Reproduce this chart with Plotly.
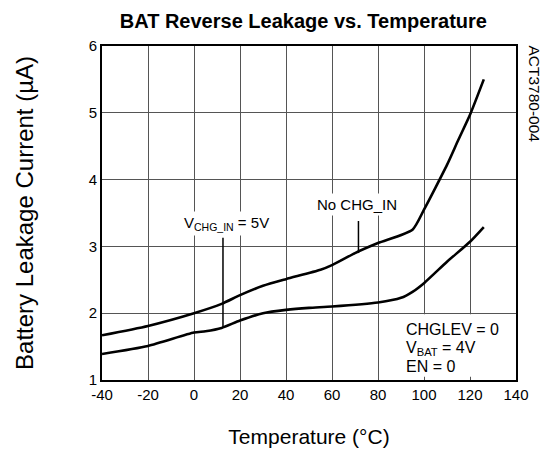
import plotly.graph_objects as go

# Data
temp_no_chg = [-40, -20, 0, 12, 20, 30, 40, 55, 60, 70, 80, 95, 100, 105, 110, 115, 120, 126]
leak_no_chg = [1.67, 1.81, 2.0, 2.14, 2.27, 2.41, 2.51, 2.65, 2.72, 2.90, 3.05, 3.25, 3.55, 3.88, 4.22, 4.6, 4.97, 5.5]

temp_chg5 = [-40, -20, 0, 5, 12, 20, 30, 40, 50, 60, 80, 90, 95, 100, 110, 120, 126]
leak_chg5 = [1.39, 1.51, 1.71, 1.73, 1.78, 1.89, 2.0, 2.05, 2.08, 2.10, 2.16, 2.23, 2.32, 2.45, 2.77, 3.07, 3.29]

x_ticks = [-40, -20, 0, 20, 40, 60, 80, 100, 120, 140]
y_ticks = [1, 2, 3, 4, 5, 6]

FONT = "Liberation Sans, Arial, sans-serif"

fig = go.Figure()
for xs, ys in [(temp_no_chg, leak_no_chg), (temp_chg5, leak_chg5)]:
    fig.add_trace(go.Scatter(x=xs, y=ys, mode="lines",
                             line=dict(color="black", width=2.6, shape="spline", smoothing=0.6),
                             showlegend=False, hoverinfo="skip"))

# white box behind the conditions text (hides grid)
fig.add_shape(type="rect", xref="x", yref="y", x0=87, x1=139.3, y0=1.05, y1=1.985,
              fillcolor="white", line=dict(width=0), layer="above")

# leader lines
fig.add_shape(type="line", xref="x", yref="y", x0=12.6, x1=12.6, y0=1.78, y1=3.13,
              line=dict(color="black", width=1.5))
fig.add_shape(type="line", xref="x", yref="y", x0=71.5, x1=71.5, y0=2.9, y1=3.38,
              line=dict(color="black", width=1.5))

fig.add_annotation(x=14.3, y=3.34, xref="x", yref="y", showarrow=False,
                   text="V<sub>CHG_IN</sub> = 5V", font=dict(size=15, color="black", family=FONT),
                   bgcolor="white", borderpad=2)
fig.add_annotation(x=70.7, y=3.62, xref="x", yref="y", showarrow=False,
                   text="No CHG_IN", font=dict(size=15, color="black", family=FONT),
                   bgcolor="white", borderpad=2)

for txt, yv in [("CHGLEV = 0", 1.75), ("V<sub>BAT</sub> = 4V", 1.47), ("EN = 0", 1.20)]:
    fig.add_annotation(x=91.5, y=yv, xref="x", yref="y", showarrow=False, xanchor="left",
                       text=txt, font=dict(size=16, color="black", family=FONT))

fig.add_annotation(x=1.045, y=0.856, xref="x domain", yref="y domain", showarrow=False,
                   text="ACT3780-004", textangle=90, xanchor="center", yanchor="middle",
                   font=dict(size=15.5, color="black", family=FONT))

fig.update_layout(
    width=550, height=450,
    margin=dict(l=94, r=42, t=38, b=78),
    paper_bgcolor="white", plot_bgcolor="white",
    font=dict(family=FONT, color="black"),
    title=dict(text="<b>BAT Reverse Leakage vs. Temperature</b>", x=0.537, xanchor="center",
               y=0.972, yanchor="middle", font=dict(size=20, color="black", family=FONT)),
    xaxis=dict(range=[-40, 140], tickvals=x_ticks, ticktext=[str(v) for v in x_ticks],
               showgrid=True, gridcolor="#555555", gridwidth=1,
               showline=True, linecolor="black", linewidth=2, mirror=True,
               ticks="", tickfont=dict(size=15, color="black"),
               title=dict(text="Temperature (°C)", font=dict(size=21, color="black"), standoff=27),
               zeroline=False, fixedrange=True),
    yaxis=dict(range=[1, 6], tickvals=y_ticks, ticktext=[str(v) for v in y_ticks],
               showgrid=True, gridcolor="#555555", gridwidth=1,
               showline=True, linecolor="black", linewidth=2, mirror=True,
               ticks="", tickfont=dict(size=15, color="black"),
               title=dict(text="Battery Leakage Current (µA)", font=dict(size=24, color="black"), standoff=48),
               zeroline=False, fixedrange=True),
)

fig.write_html("out.html")
